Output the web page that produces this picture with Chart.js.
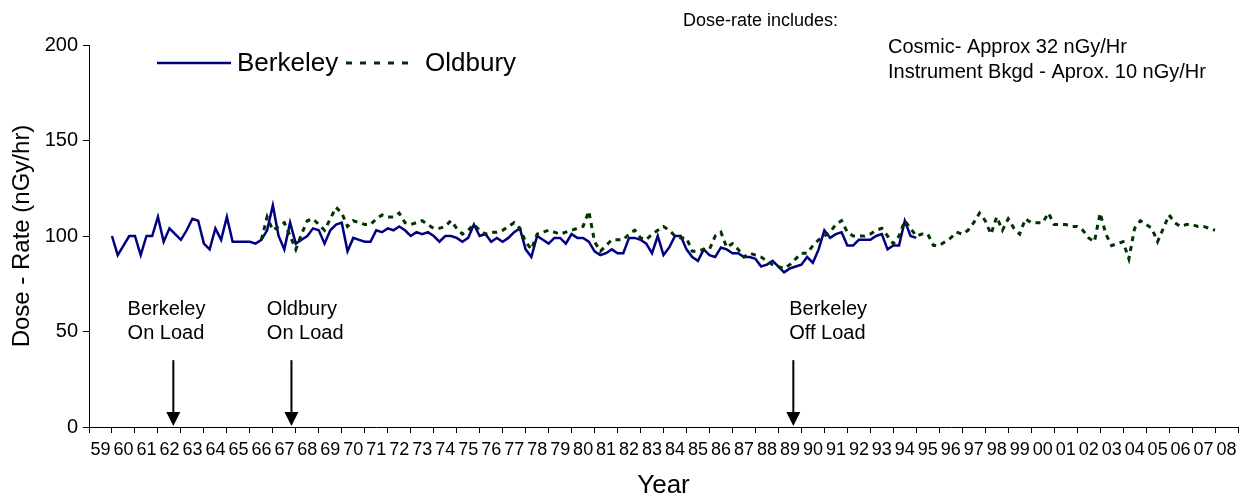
<!DOCTYPE html>
<html lang="en">
<head>
<meta charset="UTF-8">
<title>Dose-rate - Berkeley and Oldbury</title>
<script src="https://cdn.jsdelivr.net/npm/chart.js"></script>
<style>
  body { margin: 0; background: #fff; }
  .chart-box { width: 1244px; height: 499px; }
</style>
</head>
<body>
<div class="chart-box"><canvas id="doseChart" width="1244" height="499"></canvas></div>
<script>
  // one label per year, 1959 - 2008
  const yearLabels = ['59','60','61','62','63','64','65','66','67','68','69','70','71','72','73','74','75','76','77','78',
    '79','80','81','82','83','84','85','86','87','88','89','90','91','92','93','94','95','96','97','98',
    '99','00','01','02','03','04','05','06','07','08'];

  // quarterly readings (nGy/hr), first one at start of 1960
  const berkeleyStart = 60;
  const berkeley = [
    100, 90, 95, 100, 100, 90, 100, 100, 110, 97,
    104, 101, 98, 103, 109, 108, 96, 93, 104, 98,
    110, 97, 97, 97, 97, 96, 98, 103, 116, 100,
    93, 107, 96, 98, 100, 104, 103, 96, 103, 106,
    107, 92, 99, 98, 97, 97, 103, 102, 104, 103,
    105, 103, 100, 102, 101, 102, 100, 97, 100, 100,
    99, 97, 99, 106, 100, 101, 97, 99, 97, 99,
    102, 104, 93, 89, 100, 98, 96, 99, 99, 96,
    101, 99, 99, 97, 92, 90, 91, 93, 91, 91,
    99, 99, 98, 96, 91, 100, 90, 94, 100, 100,
    93, 89, 87, 93, 90, 89, 94, 93, 91, 91,
    89, 89, 88, 84, 85, 87, 84, 81, 83, 84,
    85, 89, 86, 93, 103, 99, 101, 102, 95, 95,
    98, 98, 98, 100, 101, 93, 95, 95, 108, 100, 99
  ];

  // quarterly readings (nGy/hr), first one mid 1966
  const oldburyStart = 66.5;
  const oldbury = [
    98, 110, 103, 105, 107, 100, 93, 101, 108, 109,
    106, 103, 109, 115, 112, 105, 108, 107, 106, 106,
    109, 111, 110, 110, 112, 107, 106, 107, 108, 106,
    104, 104, 105, 108, 104, 101, 103, 106,
    103, 101, 102, 102, 103, 105, 107, 104, 97, 93,
    101, 102, 103, 102, 101, 102, 103, 104, 105, 113,
    97, 92, 95, 98, 98, 98, 101, 103, 99, 98,
    101, 103, 105,
    103, 100, 99, 99, 92, 92, 93, 93, 100, 102,
    94, 96, 93, 89, 91, 90, 89, 87, 85, 84,
    83, 85, 88, 91, 91, 95, 98, 100, 102, 106,
    108, 102, 100, 100, 100, 101, 103, 104, 100, 96,
    100, 108, 104, 100, 101, 101, 95, 95, 97, 99,
    102, 101, 103, 107, 112, 108, 101, 110, 103, 109,
    104, 101, 109, 107, 107, 107,
    112, 106, 106, 106, 105, 105, 103, 99, 97, 112,
    101, 95, 96, 97, 88, 104, 108, 106, 104, 97,
    104, 111, 107, 105, 106, 106, 105, 105, 104, 103
  ];

  const notes = ['Dose-rate includes:', 'Cosmic- Approx 32 nGy/Hr', 'Instrument Bkgd - Aprox. 10 nGy/Hr'];

  // station events marked with arrows
  const events = [
    { text: ['Berkeley', 'On Load'], textYear: 60.68, arrowYear: 62.67 },
    { text: ['Oldbury', 'On Load'], textYear: 66.74, arrowYear: 67.81 },
    { text: ['Berkeley', 'Off Load'], textYear: 89.47, arrowYear: 89.65 }
  ];

  const FONT = "'Liberation Sans', Arial, sans-serif";
  const quarter = 0.25;

  function toPoints(start, values) {
    return values.map((v, i) => ({ x: start + i * quarter, y: v }));
  }

  // legend, notes and arrows drawn straight onto the canvas
  const extras = {
    id: 'extras',
    afterDraw(chart) {
      const ctx = chart.ctx;
      const xs = chart.scales.x, ys = chart.scales.y;
      ctx.save();
      ctx.fillStyle = '#000';
      ctx.textBaseline = 'middle';
      ctx.textAlign = 'left';

      // legend
      const ds = chart.data.datasets;
      ctx.font = '26px ' + FONT;
      ctx.lineWidth = 2.5;
      ctx.strokeStyle = ds[1].borderColor;
      ctx.beginPath(); ctx.moveTo(157, 63); ctx.lineTo(231, 63); ctx.stroke();
      ctx.fillText(ds[1].label, 237, 64);
      ctx.lineWidth = 3;
      ctx.strokeStyle = ds[0].borderColor;
      ctx.setLineDash([6, 8]);
      ctx.beginPath(); ctx.moveTo(346, 63); ctx.lineTo(414, 63); ctx.stroke();
      ctx.setLineDash([]);
      ctx.fillText(ds[0].label, 425, 64);

      // notes top right
      ctx.font = '18px ' + FONT;
      ctx.fillText(notes[0], 683, 21);
      ctx.font = '20px ' + FONT;
      ctx.fillText(notes[1], 888, 47);
      ctx.fillText(notes[2], 888, 72);

      // events
      ctx.font = '20px ' + FONT;
      events.forEach(ev => {
        const tx = xs.getPixelForValue(ev.textYear);
        ctx.fillText(ev.text[0], tx, ys.getPixelForValue(61.5));
        ctx.fillText(ev.text[1], tx, ys.getPixelForValue(49));
        const ax = xs.getPixelForValue(ev.arrowYear);
        const top = ys.getPixelForValue(35);
        const tip = ys.getPixelForValue(0) - 1;
        ctx.lineWidth = 2;
        ctx.strokeStyle = '#000';
        ctx.beginPath(); ctx.moveTo(ax, top); ctx.lineTo(ax, tip - 12); ctx.stroke();
        ctx.beginPath();
        ctx.moveTo(ax - 7, tip - 14);
        ctx.lineTo(ax + 7, tip - 14);
        ctx.lineTo(ax, tip);
        ctx.closePath();
        ctx.fill();
      });
      ctx.restore();
    }
  };

  new Chart(document.getElementById('doseChart'), {
    type: 'line',
    data: {
      datasets: [
        {
          label: 'Oldbury',
          data: toPoints(oldburyStart, oldbury),
          borderColor: '#003300',
          borderWidth: 3,
          borderDash: [5, 5],
          pointRadius: 0,
          fill: false,
          order: 1
        },
        {
          label: 'Berkeley',
          data: toPoints(berkeleyStart, berkeley),
          borderColor: '#000080',
          borderWidth: 2.5,
          pointRadius: 0,
          fill: false,
          order: 2
        }
      ]
    },
    options: {
      responsive: false,
      animation: false,
      layout: { padding: { top: 45, right: 0, left: 0, bottom: 0 } },
      plugins: {
        legend: { display: false },
        tooltip: { enabled: false }
      },
      scales: {
        x: {
          type: 'linear',
          min: 59,
          max: 109,
          afterFit: s => { s.height = 72; },
          border: { display: true, color: '#000', width: 1 },
          grid: { drawOnChartArea: false, drawTicks: true, tickLength: 6, color: '#000' },
          ticks: {
            stepSize: 1,
            autoSkip: false,
            maxRotation: 0,
            labelOffset: 11.55,
            padding: 6,
            color: '#000',
            font: { family: FONT, size: 18 },
            callback: v => yearLabels[v - 59] ?? ''
          },
          title: {
            display: true,
            text: 'Year',
            color: '#000',
            font: { family: FONT, size: 26, lineHeight: 1 },
            padding: { top: 0, bottom: 0 }
          }
        },
        y: {
          min: 0,
          max: 200,
          afterFit: s => { s.width = 89; },
          border: { display: true, color: '#000', width: 1 },
          grid: { drawOnChartArea: false, drawTicks: true, tickLength: 6, color: '#000' },
          ticks: {
            stepSize: 50,
            padding: 5,
            color: '#000',
            font: { family: FONT, size: 20 }
          },
          title: {
            display: true,
            text: 'Dose - Rate (nGy/hr)',
            color: '#000',
            font: { family: FONT, size: 24, lineHeight: 1 },
            padding: { top: 10, bottom: 0 }
          }
        }
      }
    },
    plugins: [extras]
  });
</script>
</body>
</html>
